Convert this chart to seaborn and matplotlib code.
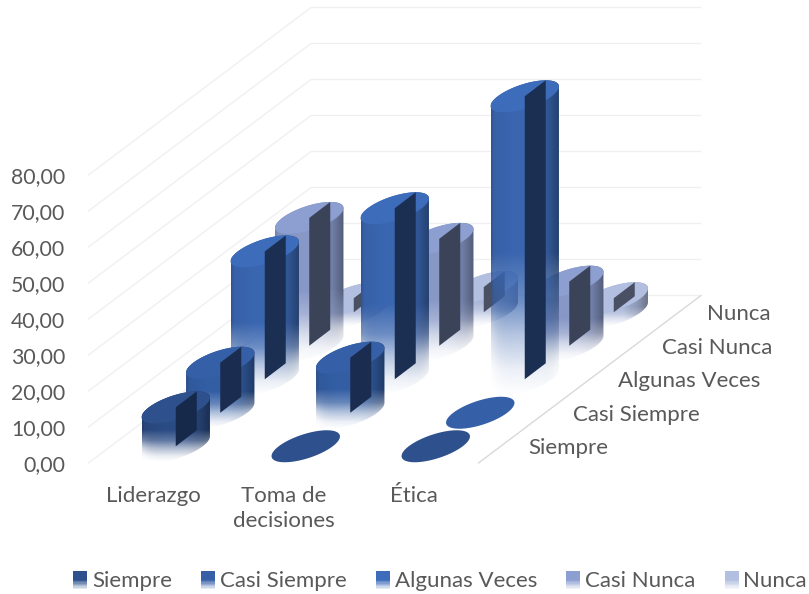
import numpy as np
import pandas as pd
import matplotlib
matplotlib.use("Agg")
import matplotlib.pyplot as plt
from matplotlib.colors import to_rgb
from matplotlib.legend_handler import HandlerBase
from matplotlib.patches import Polygon, Rectangle, Patch
import seaborn as sns

# ---------- data ----------
categories = ["Liderazgo", "Toma de\ndecisiones", "Ética"]
series_names = ["Siempre", "Casi Siempre", "Algunas Veces", "Casi Nunca", "Nunca"]
siempre = [10.8, 0.0, 0.0]
casi_siempre = [13.9, 15.3, 0.0]
algunas_veces = [35.5, 47.5, 78.6]
casi_nunca = [35.5, 29.7, 17.8]
nunca = [3.9, 7.0, 3.9]
value_ticks = [0, 10, 20, 30, 40, 50, 60, 70, 80]
tick_labels = ["0,00", "10,00", "20,00", "30,00", "40,00", "50,00", "60,00", "70,00", "80,00"]

# ---------- style ----------
sns.set_theme(style="white")
plt.rcParams["font.family"] = ["Lato", "DejaVu Sans"]
TEXT = "#595959"
top_cols = sns.color_palette(["#2e508c", "#3560a8", "#3d6cba", "#8c9fd0", "#b2bfe0"])
body_cols = sns.color_palette(["#2b4b84", "#335ea4", "#3a66b0", "#8797c6", "#a9b6d8"])
face_cols = sns.color_palette(["#16294a", "#1a2c4f", "#1b2f52", "#3a4358", "#4a5064"])

df = pd.DataFrame(
    {"Siempre": siempre, "Casi Siempre": casi_siempre, "Algunas Veces": algunas_veces,
     "Casi Nunca": casi_nunca, "Nunca": nunca},
    index=categories,
)

W, H = 809, 594
fig = plt.figure(figsize=(W / 100, H / 100), dpi=100, facecolor="white")
ax = fig.add_axes([0, 0, 1, 1])

# oblique projection: category, series, value -> canvas
X0, Y0 = 88.5, 463.0
CAT_W = 130.0
DEPTH_X, DEPTH_Y = 44.5, 33.5
PER_UNIT = 3.6
R_U, R_VX, R_VY = 27.0, 21.0, 16.0


def project(cat, ser, val=0.0):
    return (X0 + cat * CAT_W + ser * DEPTH_X, Y0 - ser * DEPTH_Y - val * PER_UNIT)


def ellipse(cx, cy, t):
    return cx + R_U * np.cos(t) + R_VX * np.sin(t), cy - R_VY * np.sin(t)


n_cat, n_ser = df.shape
# gridlines on both walls
for v in value_ticks:
    xa, ya = project(0, 0, v)
    xb, yb = project(0, n_ser, v)
    xc, yc = project(n_cat, n_ser, v)
    ax.plot([xa, xb, xc], [ya, yb, yc], color="#f0f0f0", lw=1.0, zorder=1)
xa, ya = project(n_cat, 0)
xb, yb = project(n_cat, n_ser)
ax.plot([xa, xb], [ya, yb], color="#d9d9d9", lw=1.0, zorder=1.5)

t_star = np.arctan2(R_VX, R_U)  # angle of the rightmost point on the base ellipse
z = 2.0
for j in range(n_ser - 1, -1, -1):
    vals = df.iloc[:, j].to_numpy()
    for i in range(n_cat):
        v = vals[i]
        cx, cb = project(i + 0.5, j + 0.5)
        _, ct = project(i + 0.5, j + 0.5, v)
        t_all = np.linspace(0, 2 * np.pi, 180)
        if v > 0:
            half = np.hypot(R_U, R_VX)
            left, right = cx - half, cx + half
            top, bot = ct - R_VY, cb + R_VY
            # silhouette of the swept ellipse
            t_back = np.linspace(t_star, t_star + np.pi, 90)
            t_front = np.linspace(t_star + np.pi, t_star + 2 * np.pi, 90)
            xs_t, ys_t = ellipse(cx, ct, t_back)
            xs_b, ys_b = ellipse(cx, cb, t_front)
            poly = np.column_stack([np.r_[xs_t, xs_b], np.r_[ys_t, ys_b]])
            nx, ny = int(right - left) + 1, int(bot - top) + 1
            xf = np.linspace(0, 1, nx)
            yf = np.linspace(0, 1, ny)
            shade = np.interp(xf, [0, 0.04, 0.3, 0.62, 0.85, 1.0], [0.84, 0.95, 1.0, 1.0, 0.82, 0.62])
            alpha_y = np.interp(yf, [0, 0.55, 0.7, 0.81, 0.92, 1.0], [1.0, 1.0, 0.75, 0.38, 0.1, 0.0])
            edge = 1 + 0.6 * np.abs(2 * xf - 1) ** 6
            rgba = np.zeros((ny, nx, 4))
            rgba[..., :3] = np.clip(np.outer(shade, body_cols[j]), 0, 1)[None, :, :]
            rgba[..., 3] = alpha_y[:, None] ** edge[None, :]
            im = ax.imshow(rgba, extent=(left, right, bot, top), origin="upper", aspect="auto",
                           interpolation="bilinear", zorder=z)
            im.set_clip_path(Polygon(poly, closed=True, transform=ax.transData))
            z += 0.01
        ex, ey = ellipse(cx, ct, t_all)
        ax.add_patch(Polygon(np.column_stack([ex, ey]), closed=True, fc=top_cols[j], ec="none", zorder=z))
        z += 0.01
        if v > 0:
            face = [(cx, ct), (cx + R_VX, ct - R_VY), (cx + R_VX, cb - R_VY), (cx, cb)]
            ax.add_patch(Polygon(face, closed=True, fc=face_cols[j], ec="none", zorder=z))
            z += 0.01

# axis texts
FS = 16
for v, lab in zip(value_ticks, tick_labels):
    x, y = project(0, 0, v)
    ax.text(x - 23, y + 2, lab, ha="right", va="center", fontsize=15.3, color=TEXT, zorder=50)
for i, lab in enumerate(categories):
    x, _ = project(i + 0.5, 0)
    ax.text(x, Y0 + 23, lab, ha="center", va="top", fontsize=FS, color=TEXT, linespacing=1.3, zorder=50)
for j, lab in enumerate(series_names):
    x, y = project(n_cat, j + 0.5)
    ax.text(x + 28, y + 2, lab, ha="left", va="center", fontsize=FS, color=TEXT, zorder=50)


# legend with fading swatches
class FadeHandler(HandlerBase):
    def create_artists(self, legend, orig, xd, yd, width, height, fontsize, trans):
        bands = 14
        out = []
        for k in range(bands):
            frac = (k + 0.5) / bands
            a = np.interp(frac, [0, 0.5, 1.0], [1.0, 1.0, 0.05])
            out.append(Rectangle((-xd, -yd + height * (1 - (k + 1) / bands)), width, height / bands,
                                 fc=orig.get_facecolor()[:3], alpha=a, ec="none", transform=trans,
                                 antialiased=False))
        return out


handles = [Patch(facecolor=to_rgb(c), label=n) for c, n in zip(top_cols, series_names)]
ax.legend(handles=handles, ncol=5, loc="center left", bbox_to_anchor=(73 / W, 1 - 581 / H),
          bbox_transform=fig.transFigure, frameon=False, fontsize=FS, labelcolor=TEXT,
          handler_map={Patch: FadeHandler()}, handlelength=0.63, handleheight=0.9,
          handletextpad=0.22, columnspacing=1.31, borderpad=0, borderaxespad=0)

ax.set_xlim(0, W)
ax.set_ylim(H, 0)
ax.set_axis_off()
sns.despine(ax=ax, left=True, bottom=True)
fig.savefig("out.png", dpi=100, facecolor="white")
